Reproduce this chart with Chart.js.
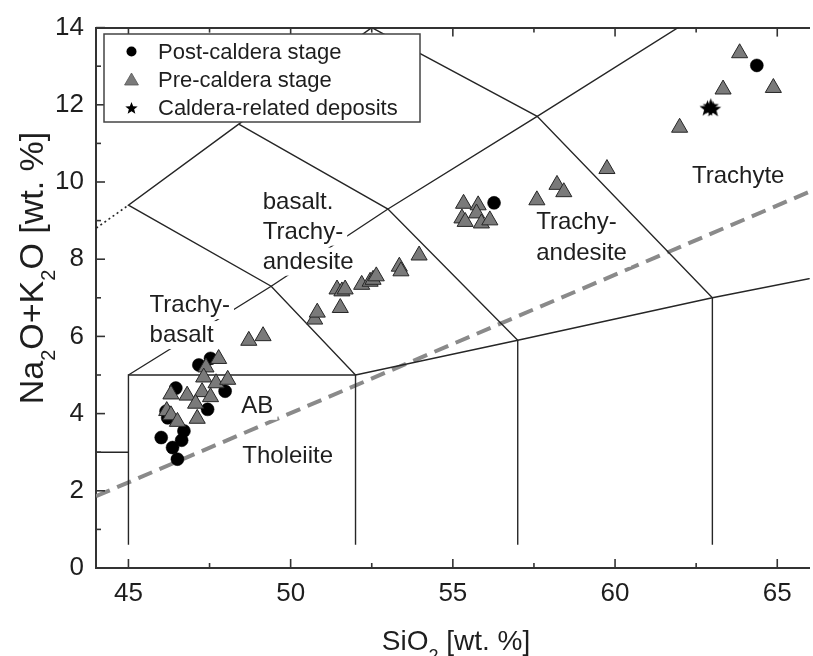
<!DOCTYPE html>
<html>
<head>
<meta charset="utf-8">
<script src="https://cdn.jsdelivr.net/npm/chart.js@4.4.1/dist/chart.umd.min.js"></script>
<style>
  html, body { margin: 0; padding: 0; background: #fff; overflow: hidden; width: 813px; height: 656px; }
  #wrap { width: 813px; height: 656px; overflow: hidden; }
  canvas { display: block; }
</style>
</head>
<body>
<div id="wrap"><canvas id="tas" width="820" height="656"></canvas></div>
<script>
const FONT = '"Liberation Sans", Arial, Helvetica, sans-serif';

// ---- Sample compositions: SiO2 and total alkalis (Na2O+K2O), wt.% ----
const postCalderaSiO2 = [47.17, 47.53, 46.46, 47.98, 47.44, 46.21, 46.16, 46.71, 46.01, 46.64, 46.36, 46.51, 56.27, 64.37];
const postCalderaAlk  = [5.26, 5.43, 4.66, 4.58, 4.11, 3.89, 4.06, 3.55, 3.38, 3.31, 3.12, 2.82, 9.46, 13.02];

const preCalderaSiO2 = [47.78, 47.39, 47.32, 47.70, 48.06, 47.27, 46.81, 46.31, 47.07, 47.53, 46.18, 46.31, 46.51, 47.12,
                        48.71, 49.15, 50.74, 50.82, 51.53, 51.43, 51.58, 51.68, 52.19, 52.45, 52.54, 52.64, 53.35, 53.40, 53.96,
                        55.33, 55.28, 55.38, 55.78, 55.73, 55.88, 56.14,
                        57.59, 58.21, 58.42, 59.75, 61.99, 63.33, 63.84, 64.88];
const preCalderaAlk  = [5.42, 5.20, 4.94, 4.79, 4.88, 4.56, 4.47, 4.50, 4.26, 4.43, 4.07, 3.96, 3.79, 3.87,
                        5.89, 6.01, 6.44, 6.62, 6.74, 7.22, 7.17, 7.22, 7.34, 7.42, 7.47, 7.56, 7.81, 7.69, 8.10,
                        9.44, 9.06, 8.97, 9.40, 9.19, 8.93, 9.01,
                        9.53, 9.93, 9.74, 10.34, 11.41, 12.40, 13.34, 12.44];

const calderaSiO2 = [62.85, 62.95, 63.02];
const calderaAlk  = [11.92, 11.97, 11.90];

const seriesNames = ['Post-caldera stage', 'Pre-caldera stage', 'Caldera-related deposits'];

// ---- Axis ticks ----
const xTicks = [45, 50, 55, 60, 65];
const xMinorTicks = [47.5, 52.5, 57.5, 62.5];
const yTicks = [0, 2, 4, 6, 8, 10, 12, 14];
const yMinorTicks = [1, 3, 5, 7, 9, 11, 13];

// ---- TAS field boundaries (Le Bas et al. 1986), [SiO2, alkalis] vertices ----
const tasSolid = [
  [[41, 3], [45, 3]],
  [[45, 0.6], [45, 5], [52, 5], [57, 5.9], [63, 7], [69, 8]],
  [[52, 0.6], [52, 5], [49.4, 7.3], [45, 9.4], [48.4, 11.5], [52.5, 14], [57.6, 11.7], [63, 7], [63, 0.6]],
  [[57, 0.6], [57, 5.9], [53, 9.3], [48.4, 11.5]],
  [[45, 5], [49.4, 7.3], [53, 9.3], [57.6, 11.7], [63, 14.56]]
];
const tasDotted = [[41, 7], [45, 9.4]];
// alkaline / subalkaline divide
const alkalineDivide = [[44, 1.86], [66, 9.75]];

// ---- Field names ----
const fieldNames = [
  ['Trachyte'],
  ['Trachy-', 'andesite'],
  ['basalt.', 'Trachy-', 'andesite'],
  ['Trachy-', 'basalt'],
  ['AB'],
  ['Tholeiite']
];
// placement of each field name: left edge (SiO2), first baseline (alkalis), line step in px
const fieldNamePlacement = [
  { x: 62.37, y: 9.97, step: 30 },
  { x: 57.57, y: 8.79, step: 31 },
  { x: 49.14, y: 9.31, step: 30 },
  { x: 45.65, y: 6.63, step: 30 },
  { x: 48.48, y: 4.02, step: 30 },
  { x: 48.51, y: 2.73, step: 30 }
];

const toXY = (xs, ys) => xs.map((v, i) => ({ x: v, y: ys[i] }));
const toPts = arr => arr.map(([x, y]) => ({ x, y }));

function starPath(g, cx, cy, R, r) {
  g.beginPath();
  for (let i = 0; i < 10; i++) {
    const rad = (i % 2 === 0) ? R : r;
    const a = -Math.PI / 2 + i * Math.PI / 5;
    const px = cx + Math.cos(a) * rad, py = cy + Math.sin(a) * rad;
    if (i === 0) g.moveTo(px, py); else g.lineTo(px, py);
  }
  g.closePath();
}
function starImage(R) {
  const c = document.createElement('canvas');
  const s = Math.ceil(R * 2 + 2);
  c.width = s; c.height = s;
  const g = c.getContext('2d');
  starPath(g, s / 2, s / 2 + 0.8, R, R * 0.42);
  g.fillStyle = '#000';
  g.fill();
  return c;
}

const boundaryStyle = {
  type: 'scatter', showLine: true, pointRadius: 0, borderColor: '#262626',
  borderWidth: 1.4, fill: false, tension: 0, order: 10
};

const datasets = [];
tasSolid.forEach(seg => datasets.push(Object.assign({ data: toPts(seg) }, boundaryStyle)));
datasets.push(Object.assign({ data: toPts(tasDotted), borderDash: [2, 3] }, boundaryStyle, { borderWidth: 1.6 }));
datasets.push(Object.assign({ data: toPts(alkalineDivide) }, boundaryStyle,
  { borderColor: '#8a8a8a', borderWidth: 4, borderDash: [15, 8] }));

const firstPointIndex = datasets.length;
datasets.push({
  label: seriesNames[0], data: toXY(postCalderaSiO2, postCalderaAlk),
  pointStyle: 'circle', pointRadius: 6.5, backgroundColor: '#000', borderColor: '#000', borderWidth: 0.5, order: 3
});
datasets.push({
  label: seriesNames[1], data: toXY(preCalderaSiO2, preCalderaAlk),
  pointStyle: 'triangle', pointRadius: 9.3, backgroundColor: '#7a7a7a', borderColor: '#262626', borderWidth: 1, order: 2
});
datasets.push({
  label: seriesNames[2], data: toXY(calderaSiO2, calderaAlk),
  pointStyle: starImage(8.5), pointRadius: 8, order: 1
});

function line(ctx, x1, y1, x2, y2) { ctx.beginPath(); ctx.moveTo(x1, y1); ctx.lineTo(x2, y2); ctx.stroke(); }

// draws text pieces with subscripts along the current baseline, centred on 0
function richText(ctx, parts, size, subSize, subDrop) {
  const widths = parts.map(p => { ctx.font = `${p.sub ? subSize : size}px ${FONT}`; return ctx.measureText(p.t).width; });
  const total = widths.reduce((a, b) => a + b, 0);
  let x = -total / 2;
  parts.forEach((p, i) => {
    ctx.font = `${p.sub ? subSize : size}px ${FONT}`;
    ctx.fillText(p.t, x, p.sub ? subDrop : 0);
    x += widths[i];
  });
}

const whiteBackground = {
  id: 'whiteBackground',
  beforeDraw(chart) {
    const { ctx, width, height } = chart;
    ctx.save(); ctx.fillStyle = '#fff'; ctx.fillRect(0, 0, width, height); ctx.restore();
  }
};

const fieldLabels = {
  id: 'fieldLabels',
  beforeDatasetDraw(chart, args) {
    if (args.index !== firstPointIndex) return;
    const { ctx, scales: { x, y } } = chart;
    ctx.save();
    ctx.font = `24px ${FONT}`;
    ctx.textAlign = 'left';
    ctx.textBaseline = 'alphabetic';
    fieldNames.forEach((lines, i) => {
      const pl = fieldNamePlacement[i];
      const px = x.getPixelForValue(pl.x);
      const py0 = y.getPixelForValue(pl.y);
      lines.forEach((txt, k) => {
        const py = py0 + k * pl.step;
        const w = ctx.measureText(txt).width;
        ctx.fillStyle = '#fff';
        ctx.fillRect(px - 4, py - 21, w + 8, 28);
      });
      ctx.fillStyle = '#1e1e1e';
      lines.forEach((txt, k) => ctx.fillText(txt, px, py0 + k * pl.step));
    });
    ctx.restore();
  }
};

const axisDecor = {
  id: 'axisDecor',
  afterDatasetsDraw(chart) {
    const { ctx, chartArea: a, scales: { x, y } } = chart;
    ctx.save();
    ctx.strokeStyle = '#333';
    ctx.lineWidth = 1.6;
    const xs = [...xTicks.map(v => [v, 9]), ...xMinorTicks.map(v => [v, 5])];
    xs.forEach(([v, L]) => {
      const px = x.getPixelForValue(v);
      line(ctx, px, a.bottom, px, a.bottom - L);
      line(ctx, px, a.top, px, a.top + L);
    });
    const ys = [...yTicks.map(v => [v, 9]), ...yMinorTicks.map(v => [v, 5])];
    ys.forEach(([v, L]) => {
      const py = y.getPixelForValue(v);
      line(ctx, a.left, py, a.left + L, py);
    });

    // axis titles
    ctx.fillStyle = '#1e1e1e';
    ctx.textBaseline = 'alphabetic';
    ctx.textAlign = 'left';
    ctx.save();
    ctx.translate(456, 650);
    richText(ctx, [{ t: 'SiO' }, { t: '2', sub: true }, { t: ' [wt. %]' }], 28, 18, 12);
    ctx.restore();
    ctx.save();
    ctx.translate(43, 268);
    ctx.rotate(-Math.PI / 2);
    richText(ctx, [{ t: 'Na' }, { t: '2', sub: true }, { t: 'O+K' }, { t: '2', sub: true }, { t: 'O [wt. %]' }], 34, 20, 12);
    ctx.restore();

    // legend
    const bx = 104, by = 34, bw = 316, bh = 88;
    ctx.fillStyle = '#fff';
    ctx.fillRect(bx, by, bw, bh);
    ctx.strokeStyle = '#444';
    ctx.lineWidth = 1.5;
    ctx.strokeRect(bx, by, bw, bh);
    const mx = 131.5, rows = [51.5, 80, 108];
    // circle
    ctx.fillStyle = '#000';
    ctx.beginPath(); ctx.arc(mx, rows[0], 5, 0, Math.PI * 2); ctx.fill();
    // triangle
    const r = 8;
    ctx.beginPath();
    ctx.moveTo(mx, rows[1] - r + 1);
    ctx.lineTo(mx + r * 0.866, rows[1] + r / 2 + 1);
    ctx.lineTo(mx - r * 0.866, rows[1] + r / 2 + 1);
    ctx.closePath();
    ctx.fillStyle = '#7a7a7a'; ctx.fill();
    ctx.strokeStyle = '#555'; ctx.lineWidth = 0.8; ctx.stroke();
    // star
    starPath(ctx, mx, rows[2] + 0.5, 6.5, 2.8);
    ctx.fillStyle = '#000'; ctx.fill();
    ctx.fillStyle = '#1e1e1e';
    ctx.font = `22px ${FONT}`;
    ctx.textBaseline = 'middle';
    seriesNames.forEach((n, i) => ctx.fillText(n, 158, rows[i] + 1));
    ctx.restore();
  }
};

const tickFont = { size: 26, family: FONT };

new Chart(document.getElementById('tas'), {
  type: 'scatter',
  data: { datasets },
  options: {
    responsive: false,
    animation: false,
    events: [],
    layout: { padding: 0 },
    plugins: { legend: { display: false }, tooltip: { enabled: false } },
    scales: {
      x: {
        type: 'linear', position: 'bottom', min: 44, max: 66,
        afterBuildTicks: s => { s.ticks = xTicks.map(v => ({ value: v })); },
        ticks: { font: tickFont, color: '#1e1e1e', padding: 10, maxRotation: 0, autoSkip: false },
        grid: { display: false, drawTicks: false },
        border: { display: true, width: 2, color: '#333' },
        afterFit: s => { s.height = 88; }
      },
      xTop: {
        type: 'linear', position: 'top', min: 44, max: 66,
        ticks: { display: false },
        grid: { display: false, drawTicks: false },
        border: { display: true, width: 2, color: '#333' },
        afterFit: s => { s.height = 24; }
      },
      y: {
        type: 'linear', position: 'left', min: 0, max: 14,
        afterBuildTicks: s => { s.ticks = yTicks.map(v => ({ value: v })); },
        ticks: { font: tickFont, color: '#1e1e1e', padding: 12, autoSkip: false },
        grid: { display: false, drawTicks: false },
        border: { display: true, width: 2, color: '#333' },
        afterFit: s => { s.width = 96; }
      }
    }
  },
  plugins: [whiteBackground, fieldLabels, axisDecor]
});
</script>
</body>
</html>
